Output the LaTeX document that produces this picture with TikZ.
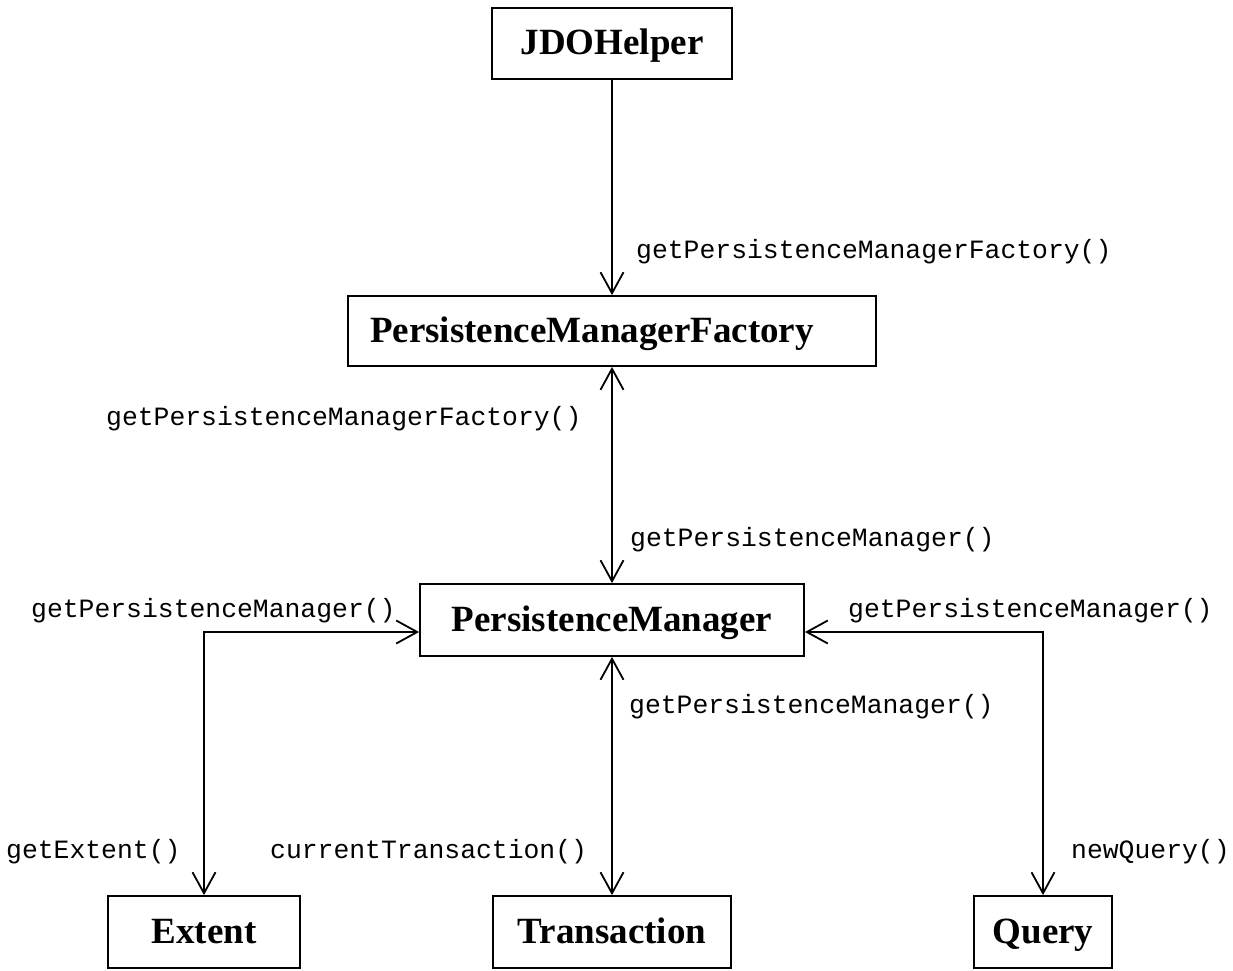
\documentclass[tikz,border=0pt]{standalone}
\usepackage{fontspec}
\setmainfont{Liberation Serif}
\setmonofont{Liberation Mono}
\usetikzlibrary{arrows.meta}
\tikzset{
  x=1pt, y=1pt,
  cls/.style={draw, line width=1.8pt, inner sep=0pt, anchor=center,
    text height=28pt, text depth=6pt,
    font=\fontsize{37}{40}\selectfont\bfseries},
  op/.style={anchor=base west, inner sep=0pt,
    font=\fontsize{26.4}{28}\selectfont\ttfamily},
  barb/.tip={Straight Barb[length=21pt, width=23pt, line width=1.8pt]},
  conn/.style={line width=1.8pt},
  fwd/.style={conn, -barb},
  both/.style={conn, barb-barb},
}
\begin{document}
\begin{tikzpicture}
\useasboundingbox (0,0) rectangle (1233,-970);

% classes
\node[cls, minimum width=240pt, minimum height=71pt] (jdo) at (612,-43.5) {JDOHelper};
\node[cls, minimum height=70pt, text width=484pt, align=left, inner xsep=22pt] (pmf) at (612,-331) {PersistenceManagerFactory};
\node[cls, minimum width=384pt, minimum height=72pt] (pm) at (612,-620) {PersistenceManager};
\node[cls, minimum width=192pt, minimum height=72pt] (ext) at (204,-932) {Extent};
\node[cls, minimum width=238pt, minimum height=72pt] (tx) at (612,-932) {Transaction};
\node[cls, minimum width=138pt, minimum height=72pt] (qry) at (1043,-932) {Query};

% associations
\draw[fwd] (jdo.south) -- (pmf.north);
\draw[both] (pmf.south) -- (pm.north);
\draw[both] (pm.south) -- (tx.north);
\draw[both] ([yshift=-12pt]pm.west) -| (ext.north);
\draw[both] ([yshift=-12pt]pm.east) -| (qry.north);

% operation labels
\node[op] (l1) at (636,-258) {getPersistenceManagerFactory()};
\node[op] (l2) at (106,-425) {getPersistenceManagerFactory()};
\node[op] (l3) at (630,-546) {getPersistenceManager()};
\node[op] (l4) at (31,-617) {getPersistenceManager()};
\node[op] (l5) at (848,-617) {getPersistenceManager()};
\node[op] (l6) at (629,-713) {getPersistenceManager()};
\node[op] (l7) at (6,-858) {getExtent()};
\node[op] (l8) at (270,-858) {currentTransaction()};
\node[op] (l9) at (1071,-858) {newQuery()};
\end{tikzpicture}
\end{document}
